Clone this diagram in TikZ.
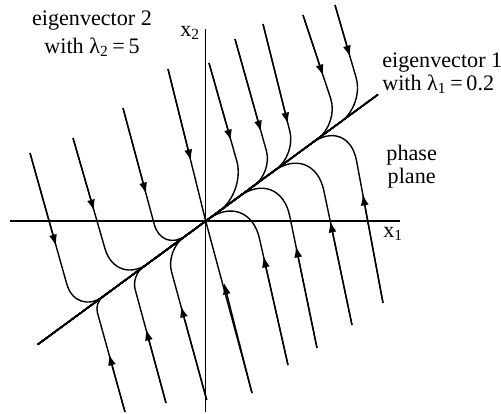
\documentclass[tikz,border=0pt]{standalone}
\usepackage{fontspec}
\setmainfont{Liberation Serif}
\usetikzlibrary{arrows.meta}

\begin{document}
\begin{tikzpicture}[x=0.02cm, y=-0.02cm,
    axis/.style={line width=0.8pt},
    flow/.style={line width=0.8pt},
    arr/.style={line width=0.8pt, -{Latex[length=6.5pt, width=4.5pt]}},
    lbl/.style={font=\fontsize{12.6}{15.9}\selectfont, inner sep=0pt}
  ]
  \useasboundingbox (0,0) rectangle (501,413);

  % axes and the slow eigenvector
  \coordinate (O) at (205.7,221);
  \coordinate (x1a) at (10,221);
  \coordinate (x1b) at (400,221);
  \coordinate (x2a) at (205.7,412);
  \coordinate (x2b) at (205.7,29);
  \coordinate (l1) at (37.7,344.5);
  \coordinate (l2) at (378,94.5);
  \draw[axis] (x1a) -- (x1b);
  \draw[axis] (x2a) -- (x2b);
  \draw[axis] (l1) -- (l2);
  \node[lbl, anchor=base west] (x1lab) at (383,237.3) {x\textsubscript{1}};
  \node[lbl, anchor=base west] (x2lab) at (180,36.7) {x\textsubscript{2}};

  % trajectories: fast along eigenvector 2, then slow along eigenvector 1
  \foreach \sx/\sy/\tx/\ty/\r/\e in {
      30/153/56.1/246/34/l2, 73/138/94.1/211/40/l2, 123/108/146.1/194/30/l2,
      209/63/231.1/141/32/l1, 235/39/261.1/132/22/l1, 263/24/288/124/24/l1,
      303/15/323.2/76/26/l1, 335/5/350.1/57/28/l1,
      125/412/108.9/354/10/l2, 166/403/145.9/329/14/l2, 206.7/400/180.9/306/22/l2,
      288/365/263.4/256/50/l1, 317/348/295.9/246/50/l1,
      352/325/330.2/221/50/l1, 383/303/362.7/194/45/l1}{
    \coordinate (s) at (\sx,\sy);
    \coordinate (t) at (\tx,\ty);
    \coordinate (c) at (intersection of s--t and l1--l2);
    \pgfmathsetmacro\rc{0.02*\r}
    \draw[flow, rounded corners=\rc cm] (s) -- (c) -- (\e);
    \draw[arr] (s) -- (t);
  }
  % the two that run straight into the origin
  \foreach \sx/\sy/\tx/\ty in {168/69/191/161, 252/393/224/283}{
    \coordinate (s) at (\sx,\sy);
    \coordinate (t) at (\tx,\ty);
    \draw[flow] (s) -- (O);
    \draw[arr] (s) -- (t);
  }

  \node[lbl, align=center, anchor=base] (ev2) at (92,53)
    {eigenvector 2\\with λ\textsubscript{2}\,=\,5};
  \node[lbl, align=left, anchor=base west, font=\fontsize{12.6}{11.5}\selectfont]
    (ev1) at (382,90) {eigenvector 1\\with λ\textsubscript{1}\,=\,0.2};
  \node[lbl, align=center, anchor=base, font=\fontsize{12.6}{13}\selectfont]
    (pp) at (411.7,183) {phase\\plane};
\end{tikzpicture}
\end{document}
